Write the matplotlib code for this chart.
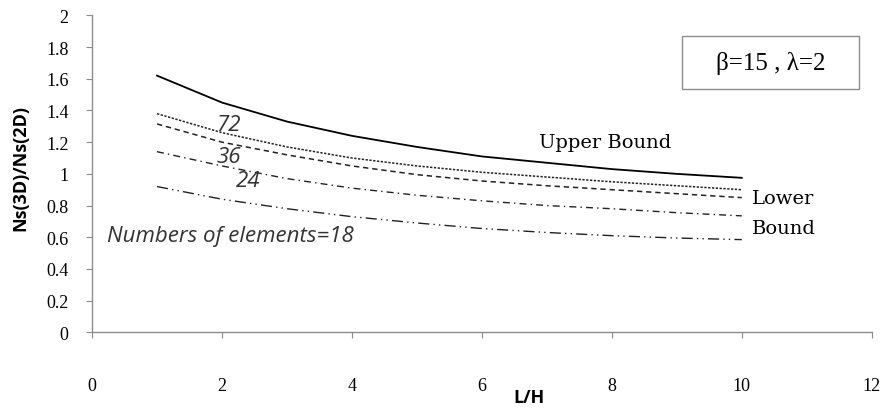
import numpy as np
import matplotlib
matplotlib.use('Agg')
import matplotlib.pyplot as plt
from matplotlib.patches import Rectangle

# L/H values and Ns(3D)/Ns(2D) ratios
lh = [1, 2, 3, 4, 5, 6, 7, 8, 9, 10]
upper_bound = [1.62, 1.45, 1.33, 1.24, 1.17, 1.11, 1.07, 1.03, 1.00, 0.975]
elem_72 = [1.38, 1.26, 1.17, 1.10, 1.05, 1.01, 0.98, 0.95, 0.925, 0.90]
elem_36 = [1.315, 1.20, 1.12, 1.05, 0.995, 0.955, 0.925, 0.90, 0.875, 0.85]
elem_24 = [1.14, 1.05, 0.97, 0.91, 0.865, 0.83, 0.80, 0.78, 0.755, 0.735]
elem_18 = [0.92, 0.84, 0.78, 0.73, 0.69, 0.655, 0.63, 0.61, 0.595, 0.585]

x_ticks = [0, 2, 4, 6, 8, 10, 12]
y_ticks = [0, 0.2, 0.4, 0.6, 0.8, 1, 1.2, 1.4, 1.6, 1.8, 2]
y_tick_labels = ['0', '0.2', '0.4', '0.6', '0.8', '1', '1.2', '1.4', '1.6', '1.8', '2']

fig = plt.figure(figsize=(8.85, 4.1), dpi=100)
ax = fig.add_axes([0.104, 0.187, 0.881, 0.773])

ax.plot(lh, upper_bound, color='black', linewidth=1.3, linestyle='-')
ax.plot(lh, elem_72, color='#222222', linewidth=1.1, linestyle=(0, (1.5, 1.0)))
ax.plot(lh, elem_36, color='#222222', linewidth=1.1, linestyle=(0, (3.5, 2.5)))
ax.plot(lh, elem_24, color='#222222', linewidth=1.0, linestyle=(0, (5, 3, 1, 3)))
ax.plot(lh, elem_18, color='#222222', linewidth=1.0, linestyle=(0, (8, 3, 1, 3, 1, 3)))

ax.set_xlim(0, 12)
ax.set_ylim(0, 2)
ax.set_xticks(x_ticks)
ax.set_yticks(y_ticks)
ax.set_yticklabels(y_tick_labels)

for side in ['top', 'right']:
    ax.spines[side].set_visible(False)
for side in ['left', 'bottom']:
    ax.spines[side].set_color('#8c8c8c')
    ax.spines[side].set_linewidth(1.0)

ax.tick_params(axis='y', direction='out', length=4, color='#8c8c8c', pad=13,
               labelsize=13)
ax.tick_params(axis='x', direction='out', length=4, color='#8c8c8c', pad=28,
               labelsize=13)
for lbl in ax.get_xticklabels() + ax.get_yticklabels():
    lbl.set_fontfamily('Liberation Serif')

# curve annotations
ann = dict(fontsize=16, style='italic', family='Open Sans', color='#333333')
ax.text(2.1, 1.31, '72', ha='center', va='center', **ann)
ax.text(2.1, 1.11, '36', ha='center', va='center', **ann)
ax.text(2.4, 0.955, '24', ha='center', va='center', **ann)
ax.text(0.23, 0.61, 'Numbers of elements=18', ha='left', va='center', **ann)

ax.text(7.9, 1.2, 'Upper Bound', fontsize=14, family='DejaVu Serif',
        ha='center', va='center')
ax.text(10.15, 0.85, 'Lower', fontsize=14, family='DejaVu Serif',
        ha='left', va='center')
ax.text(10.15, 0.66, 'Bound', fontsize=14, family='DejaVu Serif',
        ha='left', va='center')

# parameter box
fig.patches.append(Rectangle((0.771, 0.78), 0.2, 0.129, transform=fig.transFigure,
                             facecolor='white', edgecolor='#8c8c8c', linewidth=1.0))
fig.text(0.871, 0.845, '\u03b2=15 , \u03bb=2', fontsize=18, family='Liberation Serif',
         ha='center', va='center')

fig.text(0.023, 0.59, 'Ns(3D)/Ns(2D)', rotation=90, fontsize=13,
         fontweight='bold', family='Open Sans', ha='center', va='center')
fig.text(0.598, 0.03, 'L/H', fontsize=13, fontweight='bold',
         family='Open Sans', ha='center', va='center')

fig.savefig('out.png', dpi=100)
